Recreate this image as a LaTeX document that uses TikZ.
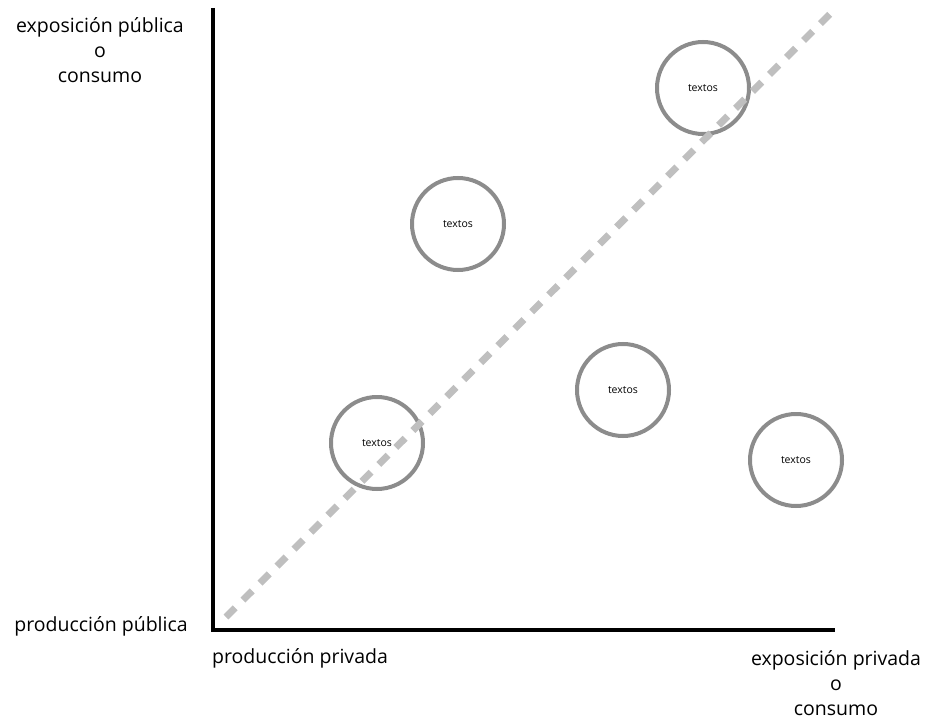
\documentclass[tikz,border=0pt]{standalone}
\usepackage{fontspec}
\setmainfont{Open Sans}
\begin{document}
\begin{tikzpicture}[x=1pt,y=-1pt,
  axis/.style={line width=4pt,black},
  diag/.style={line width=7pt,color=black!25,dash pattern=on 13pt off 11pt},
  bubble/.style={circle,draw=black!45,line width=4pt,minimum size=92pt,inner sep=0pt,font=\fontsize{10.5}{12}\selectfont},
  lbl/.style={font=\fontsize{19.5}{25}\selectfont,align=center,inner sep=0pt}]
\useasboundingbox (0,0) rectangle (925,719);
\coordinate (top) at (213,8);
\coordinate (org) at (213,630);
\coordinate (right) at (835,630);
\coordinate (ds) at (226,617);
\coordinate (de) at (834,10);
\node[bubble] (c1) at (703,88) {textos};
\node[bubble] (c2) at (458,224) {textos};
\node[bubble] (c3) at (623,390) {textos};
\node[bubble] (c4) at (377,443) {textos};
\node[bubble] (c5) at (796,460) {textos};
\draw[diag] (ds) -- (de);
\draw[axis,line join=miter] (top) -- (org) -- (right);
\node[lbl] (yl) at (100,50) {exposición pública\\o\\consumo};
\node[lbl] (ol) at (101,626) {producción pública};
\node[lbl] (xl) at (300,658) {producción privada};
\node[lbl] (xr) at (836,683) {exposición privada\\o\\consumo};
\end{tikzpicture}
\end{document}
